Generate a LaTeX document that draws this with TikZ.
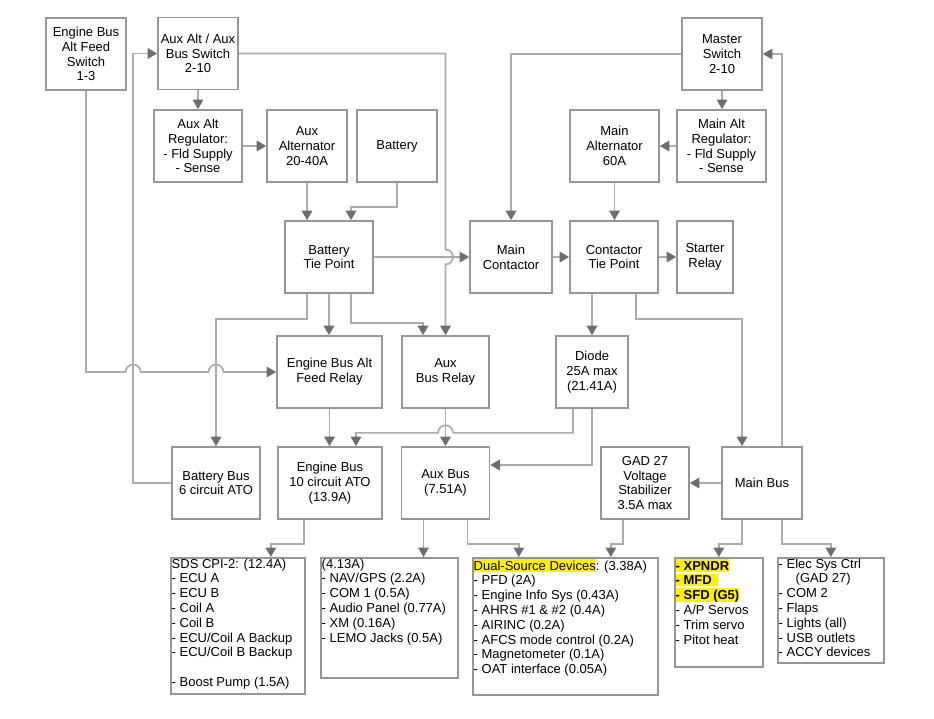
\documentclass[tikz,border=0pt]{standalone}
\usepackage{fontspec}
\setmainfont{Liberation Sans}
\usepackage{xcolor}
\usetikzlibrary{arrows.meta}
\definecolor{boxgray}{HTML}{969696}
\definecolor{linegray}{HTML}{ABABAB}
\definecolor{tipgray}{HTML}{6E6E6E}
\definecolor{hlyel}{HTML}{FFF000}
\tikzset{
  blk/.style={draw=boxgray,line width=1.7pt,align=center,inner sep=1pt,minimum height=72pt},
  lst/.style={draw=boxgray,line width=1.7pt,anchor=north west,inner sep=0pt},
  lsttxt/.style={anchor=north west,align=left,inner xsep=1.5pt,inner ysep=1.5pt,execute at begin node={\rule{0pt}{11.5pt}}},
  wire/.style={draw=linegray,line width=1.7pt},
  arr/.style={wire,-{Triangle[length=9.5pt,width=10.5pt,color=tipgray]}}
}
\newcommand{\hlt}[1]{{\setlength{\fboxsep}{0pt}\colorbox{hlyel}{\rule[-1.5pt]{0pt}{12.8pt}#1}}}

\begin{document}
\begin{tikzpicture}[x=1pt,y=1pt,font=\fontsize{13}{14.8}\selectfont]
\useasboundingbox (0,0) rectangle (934,-718);
% switches, regulators, sources
\node[blk,minimum width=80pt] (sw1) at (86,-54) {Engine Bus\\Alt Feed\\Switch\\1-3};
\node[blk,minimum width=80pt] (sw2) at (198,-53.5) {Aux Alt / Aux\\Bus Switch\\2-10};
\node[blk,minimum width=88pt] (auxreg) at (198,-146) {Aux Alt\\Regulator:\\- Fld Supply\\- Sense};
\node[blk,minimum width=80pt] (auxalt) at (307,-146) {Aux\\Alternator\\20-40A};
\node[blk,minimum width=80pt] (batt) at (397,-146) {Battery};
\node[blk,minimum width=80pt] (master) at (722,-54) {Master\\Switch\\2-10};
\node[blk,minimum width=89pt] (mainreg) at (721.5,-146) {Main Alt\\Regulator:\\- Fld Supply\\- Sense};
\node[blk,minimum width=89pt] (mainalt) at (614.5,-146) {Main\\Alternator\\60A};
% tie points and relays
\node[blk,minimum width=88pt] (btp) at (329,-257) {Battery\\Tie Point};
\node[blk,minimum width=82pt] (mcont) at (511,-257) {Main\\Contactor};
\node[blk,minimum width=88pt] (ctp) at (614,-257) {Contactor\\Tie Point};
\node[blk,minimum width=56pt] (starter) at (705,-257) {Starter\\Relay};
\node[blk,minimum width=105pt] (ebafr) at (329.5,-372) {Engine Bus Alt\\Feed Relay};
\node[blk,minimum width=87pt] (abr) at (445.5,-372) {Aux\\Bus Relay};
\node[blk,minimum width=72pt] (diode) at (592,-372) {Diode\\25A max\\(21.41A)};
% buses
\node[blk,minimum width=88pt] (battbus) at (216,-483) {Battery Bus\\6 circuit ATO};
\node[blk,minimum width=104pt] (engbus) at (330,-483) {Engine Bus\\10 circuit ATO\\(13.9A)};
\node[blk,minimum width=88pt] (auxbus) at (445.5,-483) {Aux Bus\\(7.51A)};
\node[blk,minimum width=88pt] (gad) at (645,-483) {GAD 27\\Voltage\\Stabilizer\\3.5A max};
\node[blk,minimum width=80pt] (mainbus) at (762,-483) {Main Bus};
% loads
\node[lst,minimum width=134pt,minimum height=136pt] (sds) at (170,-557) {};
\node[lsttxt] (sdstxt) at (sds.north west) {SDS CPI-2: (12.4A)\\- ECU A\\- ECU B\\- Coil A\\- Coil B\\- ECU/Coil A Backup\\- ECU/Coil B Backup\\[14.8pt]- Boost Pump (1.5A)};
\node[lst,minimum width=137pt,minimum height=120pt] (av) at (320,-557) {};
\node[lsttxt] (avtxt) at (av.north west) {(4.13A)\\- NAV/GPS (2.2A)\\- COM 1 (0.5A)\\- Audio Panel (0.77A)\\- XM (0.16A)\\- LEMO Jacks (0.5A)};
\node[lst,minimum width=185pt,minimum height=137pt] (dual) at (472,-557) {};
\node[lsttxt] (dualtxt) at (dual.north west) {\hlt{Dual-Source Devices}: (3.38A)\\- PFD (2A)\\- Engine Info Sys (0.43A)\\- AHRS \#1 \& \#2 (0.4A)\\- AIRINC (0.2A)\\- AFCS mode control (0.2A)\\- Magnetometer (0.1A)\\- OAT interface (0.05A)};
\node[lst,minimum width=88pt,minimum height=109pt] (xp) at (674,-557) {};
\node[lsttxt] (xptxt) at (xp.north west) {\hlt{\bfseries - XPNDR}\\\hlt{\bfseries - MFD\hspace{6pt}}\\\hlt{\bfseries - SFD (G5)}\\- A/P Servos\\- Trim servo\\- Pitot heat};
\node[lst,minimum width=106pt,minimum height=105pt] (elec) at (777,-557) {};
\node[lsttxt] (electxt) at (elec.north west) {- Elec Sys Ctrl\\\hspace*{17pt}(GAD 27)\\- COM 2\\- Flaps\\- Lights (all)\\- USB outlets\\- ACCY devices};
% crossing points
\coordinate (ret) at ([xshift=-24]sw2.west);
\coordinate (hopB) at (abr.north |- btp.east);
\coordinate (hopC) at (ret |- ebafr.west);
\coordinate (hopD) at (battbus.north |- ebafr.west);
\coordinate (dj) at ([xshift=-19,yshift=-24]diode.south);
\coordinate (hopE) at (abr.south |- dj);
% connectors
\draw[arr] (sw2) -- (auxreg);
\draw[arr] (auxreg) -- (auxalt);
\draw[arr] (auxalt.south) -- (auxalt.south |- btp.north);
\draw[arr] (batt.south) -- ++(0,-24) -| ([xshift=22]btp.north);
\draw[arr] (master.south) -- (master.south |- mainreg.north);
\draw[arr] (mainreg) -- (mainalt);
\draw[arr] (mainalt.south) -- (mainalt.south |- ctp.north);
\draw[arr] (master.west) -| (mcont.north);
\draw[arr] ([xshift=20]mainbus.north) |- (master.east);
\draw[arr] (btp) -- (mcont);
\draw[arr] (mcont) -- (ctp);
\draw[arr] (ctp) -- (starter);
\draw[arr] (sw2.east) -| ([yshift=7.5]hopB) arc[start angle=90,end angle=-90,radius=7.5] -- (abr.north);
\draw[arr] (battbus.west) -| (ret) -- (sw2.west);
\draw[arr] (sw1.south) |- ([xshift=-7.5]hopC) arc[start angle=180,end angle=0,radius=7.5] -- ([xshift=-7.5]hopD) arc[start angle=180,end angle=0,radius=7.5] -- (ebafr.west);
\draw[arr] ([xshift=-22]btp.south) -- ++(0,-25) -| (battbus.north);
\draw[arr] (btp.south) -- (btp.south |- ebafr.north);
\draw[arr] ([xshift=22]btp.south) -- ++(0,-29) -| ([xshift=-22.5]abr.north);
\draw[arr] (ebafr.south) -- (ebafr.south |- engbus.north);
\draw[arr] (abr) -- (auxbus);
\draw[arr] ([xshift=-22]ctp.south) -- ([xshift=-22]ctp.south |- diode.north);
\draw[arr] ([xshift=22]ctp.south) -- ++(0,-25) -| ([xshift=-20]mainbus.north);
\draw[arr] ([xshift=-19]diode.south) -- (dj) -- ([xshift=7.5]hopE) arc[start angle=0,end angle=180,radius=7.5] -| ([xshift=26]engbus.north);
\draw[arr] (diode.south) |- ([yshift=18]auxbus.east);
\draw[arr] (mainbus) -- (gad);
\draw[arr] ([xshift=-26]engbus.south) -- ++(0,-24) -| ([xshift=33]sds.north);
\draw[arr] ([xshift=-22]auxbus.south) -- ([xshift=-22]auxbus.south |- av.north);
\draw[arr] ([xshift=22]auxbus.south) -- ++(0,-24) -| ([xshift=-46.5]dual.north);
\draw[arr] ([xshift=-22]gad.south) -- ++(0,-24) -| ([xshift=45.5]dual.north);
\draw[arr] ([xshift=-20]mainbus.south) -- ++(0,-24) -| (xp.north);
\draw[arr] ([xshift=20]mainbus.south) -- ++(0,-24) -| (elec.north);
\end{tikzpicture}
\end{document}
